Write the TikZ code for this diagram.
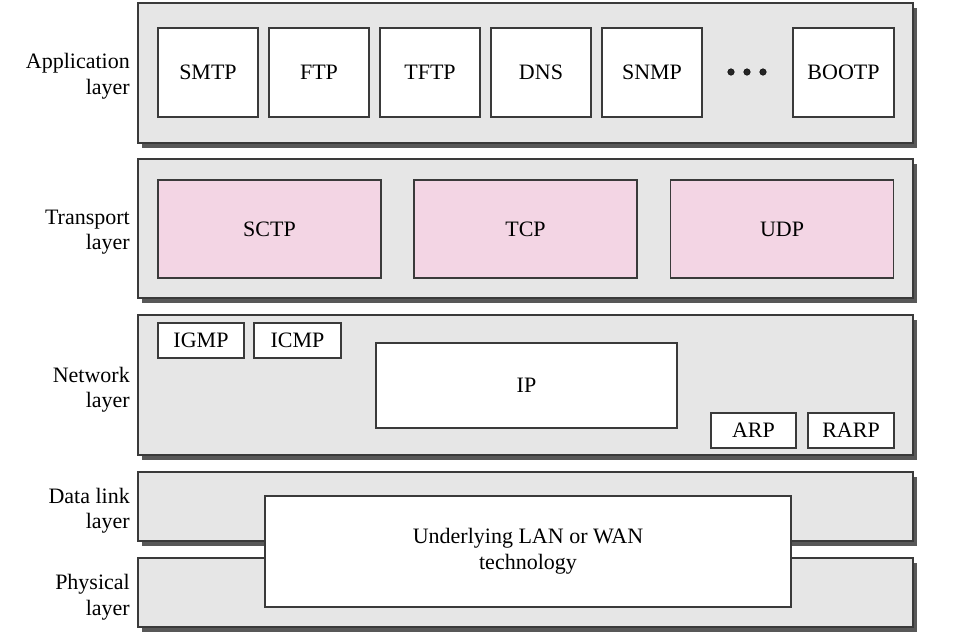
\documentclass[tikz,border=0pt]{standalone}
\usepackage{fontspec}
\setmainfont{Liberation Serif}
\usetikzlibrary{shadows}

\definecolor{layergray}{HTML}{E6E6E6}
\definecolor{tppink}{HTML}{F3D5E4}
\definecolor{edgegray}{HTML}{3A3A3A}

\tikzset{
  layer/.style={draw=edgegray, fill=layergray, line width=1.3pt, inner sep=0pt,
    minimum width=775pt,
    drop shadow={shadow xshift=4pt, shadow yshift=-5pt, opacity=1, fill=edgegray!85}},
  proto/.style={draw=edgegray, fill=white, line width=1.1pt, inner sep=0pt,
    font=\fontsize{22}{26}\selectfont, align=center},
  tpbox/.style={proto, fill=tppink, minimum width=223pt, minimum height=98pt},
  lname/.style={anchor=east, align=right, inner sep=0pt, font=\fontsize{22}{25.5}\selectfont}
}

\begin{document}
\begin{tikzpicture}[x=1pt, y=-1pt]
                \useasboundingbox (0,0) rectangle (954,638);
                % layers
                \node [layer, minimum height=140pt] (applayer) at (525.5,73) {};
                \node [layer, minimum height=139pt] (tplayer) at (525.5,228.5) {};
                \node [layer, minimum height=140pt] (netlayer) at (525.5,385) {};
                \node [layer, minimum height=69pt] (dllayer) at (525.5,506.5) {};
                \node [layer, minimum height=69pt] (phylayer) at (525.5,592.5) {};
                \node [lname] (applbl) at (130,76) {Application\\layer};
                \node [lname] (tplbl) at (130,232) {Transport\\layer};
                \node [lname] (netlbl) at (130,389.5) {Network\\layer};
                \node [lname] (dllbl) at (130,510.5) {Data link\\layer};
                \node [lname] (phylbl) at (130,597) {Physical\\layer};
                % application layer
                \foreach \name [count=\i] in {SMTP,FTP,TFTP,DNS,SNMP}
                    \node [proto, minimum width=100pt, minimum height=89pt] (\name) at ({97+111*\i},72.5) {\name};
                \foreach \x in {731,747,763}
                    \draw [fill=black!85] (\x,72) circle [radius=3.3];
                \node [proto, minimum width=101pt, minimum height=89pt] (BOOTP) at (843.5,72.5) {BOOTP};
                % transport layer
                \node [tpbox] (SCTP) at (269.5,229) {SCTP};
                \node [tpbox] (TCP) at (525.5,229) {TCP};
                \node [tpbox] (UDP) at (782,229) {UDP};
                % network layer
                \node [proto, minimum width=86pt, minimum height=35pt] (IGMP) at (201,340.5) {IGMP};
                \node [proto, minimum width=87pt, minimum height=35pt] (ICMP) at (297.5,340.5) {ICMP};
                \node [proto, minimum width=301pt, minimum height=85pt] (IP) at (526.5,385.5) {IP};
                \node [proto, minimum width=85pt, minimum height=35pt] (ARP) at (753.5,430.5) {ARP};
                \node [proto, minimum width=86pt, minimum height=35pt] (RARP) at (851,430.5) {RARP};
                % data link + physical
                \node [proto, minimum width=526pt, minimum height=111pt] (lanwan) at (528,551.5) {Underlying LAN or WAN\\technology};
            \end{tikzpicture}
\end{document}
